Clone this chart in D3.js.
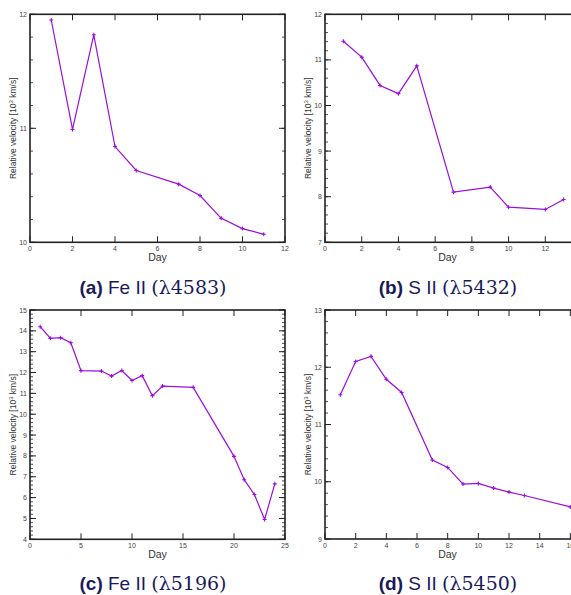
<!DOCTYPE html>
<html>
<head>
<meta charset="utf-8">
<script src="https://cdn.jsdelivr.net/npm/d3@7"></script>
<style>
  body { margin: 0; background: #fff; }
  svg { display: block; }
  .tick-lbl { font-family: "Liberation Sans", Arial, sans-serif; font-size: 7px; fill: #444; }
  .ax-lbl { font-family: "Liberation Sans", Arial, sans-serif; fill: #333; }
  .cap { font-size: 19px; fill: #1a1a5a; }
</style>
</head>
<body>
<svg id="fig" width="571" height="595"></svg>
<script>
'use strict';

// ─── Дані ─────────────────────────────────────────────
const daysA = [1, 2, 3, 4, 5, 7, 8, 9, 10, 11];
const velA  = [11.95, 10.99, 11.82, 10.84, 10.63, 10.51, 10.41, 10.21, 10.12, 10.07];

const daysB = [1, 2, 3, 4, 5, 7, 9, 10, 12, 13];
const velB  = [11.41, 11.06, 10.44, 10.26, 10.87, 8.10, 8.21, 7.77, 7.72, 7.94];

const daysC = [1, 2, 3, 4, 5, 7, 8, 9, 10, 11, 12, 13, 16, 20, 21, 22, 23, 24];
const velC  = [14.2, 13.64, 13.67, 13.43, 12.09, 12.07, 11.83, 12.10, 11.62, 11.85, 10.89, 11.35, 11.29, 7.98, 6.86, 6.15, 4.95, 6.66];

const daysD = [1, 2, 3, 4, 5, 7, 8, 9, 10, 11, 12, 13, 16];
const velD  = [11.52, 12.10, 12.19, 11.79, 11.56, 10.38, 10.25, 9.96, 9.97, 9.89, 9.82, 9.76, 9.56];

const xTicksA = [0, 2, 4, 6, 8, 10, 12];
const yTicksA = [10, 11, 12];
const xTicksB = [0, 2, 4, 6, 8, 10, 12];
const yTicksB = [7, 8, 9, 10, 11, 12];
const xTicksC = [0, 5, 10, 15, 20, 25];
const yTicksC = [4, 5, 6, 7, 8, 9, 10, 11, 12, 13, 14, 15];
const xTicksD = [0, 2, 4, 6, 8, 10, 12, 14, 16];
const yTicksD = [9, 10, 11, 12, 13];

const captions = [
  { tag: '(a)', ion: 'Fe II', line: '(λ4583)' },
  { tag: '(b)', ion: 'S II',  line: '(λ5432)' },
  { tag: '(c)', ion: 'Fe II', line: '(λ5196)' },
  { tag: '(d)', ion: 'S II',  line: '(λ5450)' }
];

const LINE_COLOR = '#9a0ee0';

const svg = d3.select('#fig');

// ─── Одна панель ──────────────────────────────────────
function panel(opt) {
  const { box, xDom, yDom, xTicks, yTicks, days, vals, cap, capX, capY } = opt;
  const x = d3.scaleLinear().domain(xDom).range([box.l, box.r]);
  const y = d3.scaleLinear().domain(yDom).range([box.b, box.t]);
  const g = svg.append('g');

  // мінорні поділки по y (крок 0.2)
  const minor = d3.range(yDom[0], yDom[1] + 1e-9, 0.2);
  minor.forEach(v => {
    g.append('line').attr('x1', box.l).attr('x2', box.l + 3)
      .attr('y1', y(v)).attr('y2', y(v)).attr('stroke', '#222').attr('stroke-width', 0.8);
    g.append('line').attr('x1', box.r).attr('x2', box.r - 3)
      .attr('y1', y(v)).attr('y2', y(v)).attr('stroke', '#222').attr('stroke-width', 0.8);
  });
  yTicks.forEach(v => {
    g.append('line').attr('x1', box.l).attr('x2', box.l + 6)
      .attr('y1', y(v)).attr('y2', y(v)).attr('stroke', '#222').attr('stroke-width', 1);
    g.append('line').attr('x1', box.r).attr('x2', box.r - 6)
      .attr('y1', y(v)).attr('y2', y(v)).attr('stroke', '#222').attr('stroke-width', 1);
    g.append('text').attr('class', 'tick-lbl').attr('text-anchor', 'end')
      .attr('x', box.l - 3).attr('y', y(v) + 2.5).text(v);
  });
  xTicks.forEach(v => {
    g.append('line').attr('x1', x(v)).attr('x2', x(v))
      .attr('y1', box.b).attr('y2', box.b - 6).attr('stroke', '#222').attr('stroke-width', 1);
    g.append('line').attr('x1', x(v)).attr('x2', x(v))
      .attr('y1', box.t).attr('y2', box.t + 6).attr('stroke', '#222').attr('stroke-width', 1);
    g.append('text').attr('class', 'tick-lbl').attr('text-anchor', 'middle')
      .attr('x', x(v)).attr('y', box.b + 9).text(v);
  });

  g.append('rect').attr('x', box.l).attr('y', box.t)
    .attr('width', x(xDom[1]) - box.l).attr('height', box.b - box.t)
    .attr('fill', 'none').attr('stroke', '#222').attr('stroke-width', 1.6);

  // підписи осей
  g.append('text').attr('class', 'ax-lbl').attr('font-size', 10.5).attr('text-anchor', 'middle')
    .attr('x', (box.l + Math.min(box.r, 570)) / 2).attr('y', box.b + 19).text('Day');
  const yl = g.append('text').attr('class', 'ax-lbl').attr('font-size', 8.5).attr('text-anchor', 'middle')
    .attr('transform', `translate(${box.l - 14},${(box.t + box.b) / 2}) rotate(-90)`);
  yl.append('tspan').text('Relative velocity [10');
  yl.append('tspan').attr('font-size', 6).attr('dy', -3.5).text('3');
  yl.append('tspan').attr('dy', 3.5).text(' km/s]');

  // крива
  const pts = days.map((d, i) => [d, vals[i]]);
  g.append('path').datum(pts)
    .attr('fill', 'none').attr('stroke', LINE_COLOR).attr('stroke-width', 1.2)
    .attr('d', d3.line().x(d => x(d[0])).y(d => y(d[1])));
  g.selectAll('.mk').data(pts).enter().append('path')
    .attr('stroke', LINE_COLOR).attr('stroke-width', 1.1)
    .attr('d', d => {
      const px = x(d[0]), py = y(d[1]);
      return `M${px - 2},${py}H${px + 2}M${px},${py - 2}V${py + 2}`;
    });

  // підпис панелі
  const c = svg.append('text').attr('class', 'cap').attr('text-anchor', 'middle')
    .attr('x', capX).attr('y', capY);
  c.append('tspan').attr('font-family', '"Liberation Sans", Arial, sans-serif')
    .attr('font-weight', 'bold').text(cap.tag + ' ');
  c.append('tspan').attr('font-family', '"Liberation Sans", Arial, sans-serif').text(cap.ion + ' ');
  c.append('tspan').attr('font-family', '"DejaVu Serif", "Liberation Serif", serif').text(cap.line);
}

panel({ box: { l: 30, r: 285, t: 14.3, b: 242.3 }, xDom: [0, 12], yDom: [10, 12],
  xTicks: xTicksA, yTicks: yTicksA, days: daysA, vals: velA, cap: captions[0], capX: 153, capY: 294 });
panel({ box: { l: 325, r: 582, t: 14.3, b: 242.3 }, xDom: [0, 14], yDom: [7, 12],
  xTicks: xTicksB, yTicks: yTicksB, days: daysB, vals: velB, cap: captions[1], capX: 448, capY: 294 });
panel({ box: { l: 30, r: 285, t: 310, b: 539.3 }, xDom: [0, 25], yDom: [4, 15],
  xTicks: xTicksC, yTicks: yTicksC, days: daysC, vals: velC, cap: captions[2], capX: 153, capY: 590 });
panel({ box: { l: 325, r: 601, t: 310, b: 539 }, xDom: [0, 18], yDom: [9, 13],
  xTicks: xTicksD, yTicks: yTicksD, days: daysD, vals: velD, cap: captions[3], capX: 448, capY: 590 });
</script>
</body>
</html>
